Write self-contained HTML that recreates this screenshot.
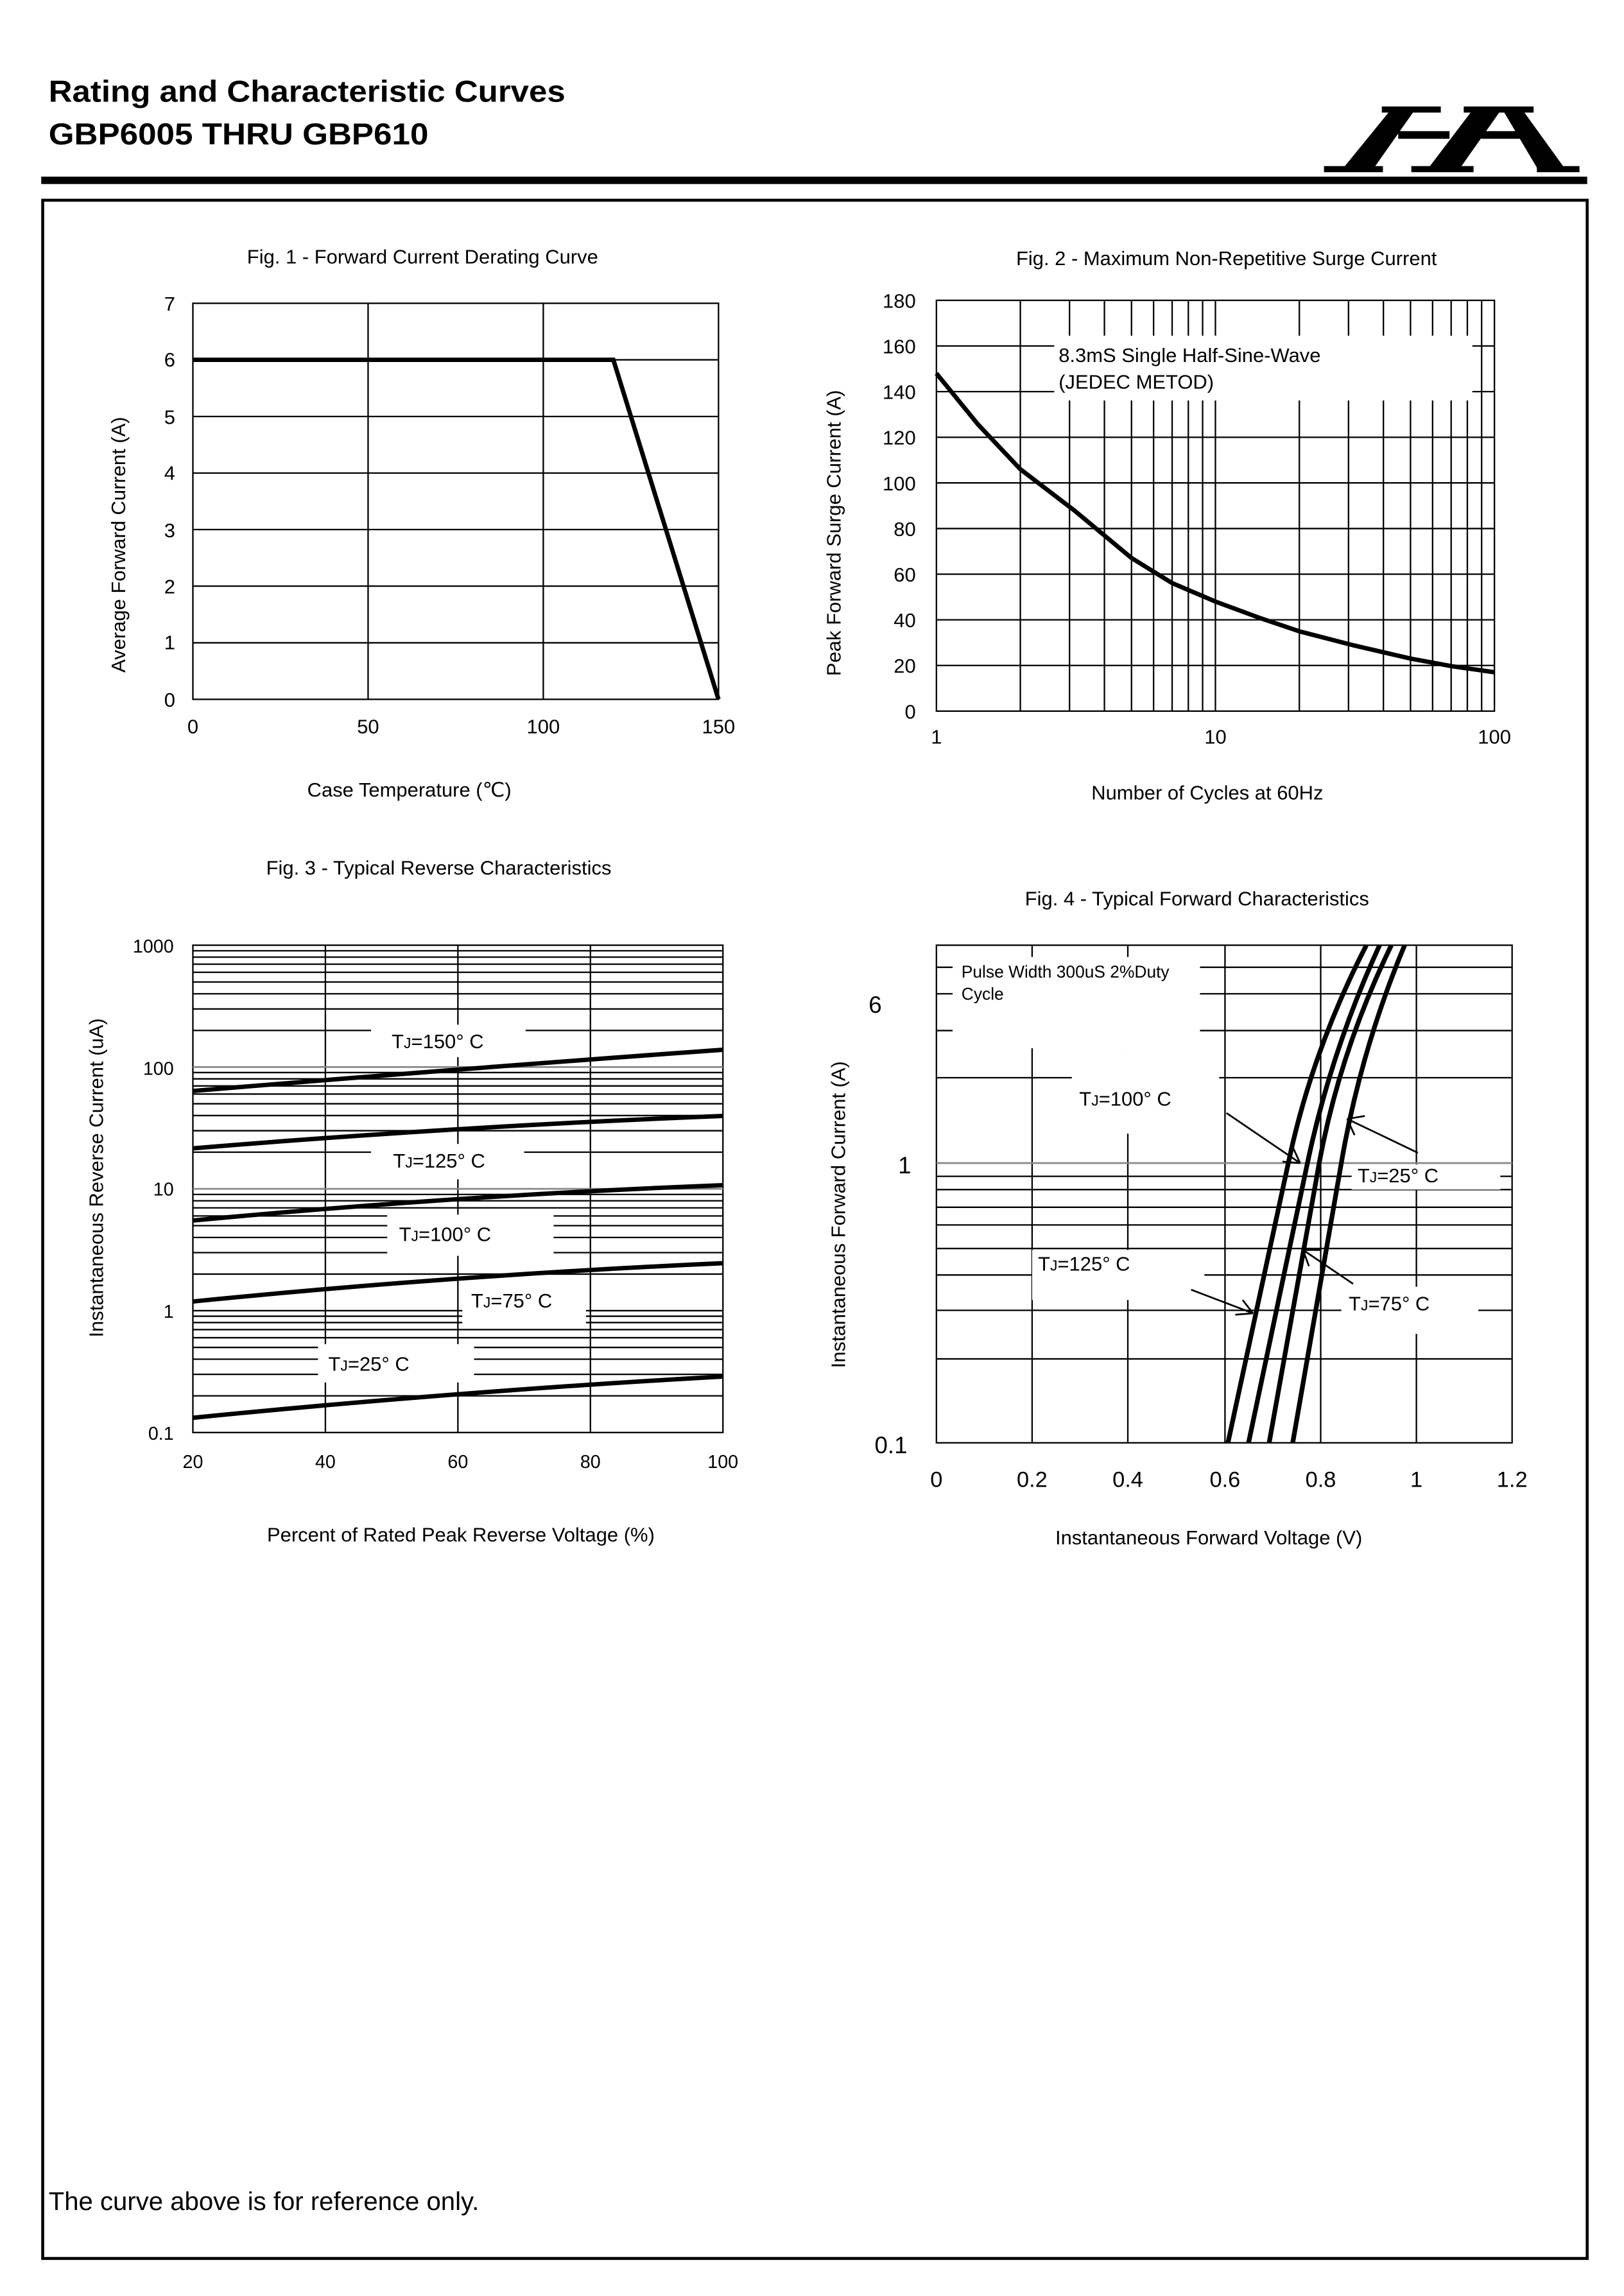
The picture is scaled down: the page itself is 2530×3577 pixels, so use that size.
<!DOCTYPE html>
<html><head><meta charset="utf-8"><style>
html,body{margin:0;padding:0;background:#fff}
svg{display:block}
text{font-family:"Liberation Sans",Arial,sans-serif;fill:#000}
</style></head><body>
<svg width="2530" height="3577" viewBox="0 0 1103 1559.5" preserveAspectRatio="none" xmlns="http://www.w3.org/2000/svg">
<rect x="0" y="0" width="1103" height="1560" fill="#fff"/>
<!-- header -->
<text x="33" y="69" font-size="20.5" font-weight="bold" textLength="351" lengthAdjust="spacingAndGlyphs">Rating and Characteristic Curves</text>
<text x="33" y="98" font-size="20.5" font-weight="bold" textLength="258" lengthAdjust="spacingAndGlyphs">GBP6005 THRU GBP610</text>
<rect x="28" y="120" width="1050" height="5" fill="#000"/>
<rect x="29" y="136" width="1049" height="1398" fill="none" stroke="#000" stroke-width="2"/>
<!-- logo -->
<g transform="translate(871.8,52.3) scale(0.1483)" fill="#000">
<polygon points="275,415 415,415 605,145 495,145"/>
<rect x="450" y="135" width="270" height="28"/>
<rect x="185" y="408" width="270" height="28"/>
<polygon points="665,415 810,415 1000,145 870,145"/>
<rect x="825" y="135" width="320" height="28"/>
<rect x="585" y="408" width="285" height="28"/>
<rect x="525" y="248" width="235" height="35"/>
<rect x="905" y="248" width="210" height="35"/>
<polygon points="1000,145 1090,145 1285,415 1160,415"/>
<rect x="1160" y="408" width="195" height="28"/>
</g>

<!-- FIG 1 -->
<text x="287" y="179" font-size="13.5" text-anchor="middle">Fig. 1 - Forward Current Derating Curve</text>
<g stroke="#000" stroke-width="1" fill="none">
<rect x="131" y="206" width="357" height="269"/>
<path d="M131 244.4H488M131 282.9H488M131 321.3H488M131 359.7H488M131 398.1H488M131 436.6H488M250 206V475M369 206V475"/>
</g>
<polyline points="131,244.4 416.6,244.4 488,475" fill="none" stroke="#000" stroke-width="3"/>
<g font-size="13.5" text-anchor="end">
<text x="119" y="480">0</text><text x="119" y="441">1</text><text x="119" y="403">2</text><text x="119" y="365">3</text><text x="119" y="326">4</text><text x="119" y="288">5</text><text x="119" y="249">6</text><text x="119" y="211">7</text>
</g>
<g font-size="13.5" text-anchor="middle">
<text x="131" y="498">0</text><text x="250" y="498">50</text><text x="369" y="498">100</text><text x="488" y="498">150</text>
<text x="278" y="541">Case Temperature (℃)</text>
</g>
<text transform="translate(85,370) rotate(-90)" font-size="13.5" text-anchor="middle">Average Forward Current (A)</text>

<!-- FIG 2 -->
<text x="833" y="180" font-size="13.5" text-anchor="middle">Fig. 2 - Maximum Non-Repetitive Surge Current</text>
<g stroke="#000" stroke-width="1" fill="none">
<rect x="636" y="204" width="379" height="279"/>
<path d="M636 452H1015M636 421H1015M636 390H1015M636 359H1015M636 328H1015M636 297H1015M636 266H1015M636 235H1015"/>
<path d="M693 204V483M726.4 204V483M750.1 204V483M768.5 204V483M783.5 204V483M796.1 204V483M807.1 204V483M816.8 204V483M825.5 204V483M882.5 204V483M915.9 204V483M939.6 204V483M958 204V483M973 204V483M985.6 204V483M996.6 204V483M1006.3 204V483"/>
</g>
<rect x="716" y="228" width="284" height="44" fill="#fff"/>
<text x="719" y="246" font-size="13.5">8.3mS Single Half-Sine-Wave</text>
<text x="719" y="264" font-size="13.5">(JEDEC METOD)</text>
<path d="M636 253.6 L664 288 L693 318.7 L730 347 L768.5 379 L796 396 L825.5 408.6 L855 419.5 L882.5 428.8 L920 438.5 L958 447.3 L986 452.5 L1015 456.6" fill="none" stroke="#000" stroke-width="3" stroke-linejoin="round"/>
<g font-size="13.5" text-anchor="end">
<text x="622" y="488">0</text><text x="622" y="457">20</text><text x="622" y="426">40</text><text x="622" y="395">60</text><text x="622" y="364">80</text><text x="622" y="333">100</text><text x="622" y="302">120</text><text x="622" y="271">140</text><text x="622" y="240">160</text><text x="622" y="209">180</text>
</g>
<g font-size="13.5" text-anchor="middle">
<text x="636" y="505">1</text><text x="825.5" y="505">10</text><text x="1015" y="505">100</text>
<text x="820" y="543">Number of Cycles at 60Hz</text>
</g>
<text transform="translate(571,362) rotate(-90)" font-size="13.5" text-anchor="middle">Peak Forward Surge Current (A)</text>

<!-- FIG 3 -->
<text x="298" y="594" font-size="13.5" text-anchor="middle">Fig. 3 - Typical Reverse Characteristics</text>
<g stroke="#000" stroke-width="1" fill="none">
<rect x="131" y="642" width="360" height="331"/>
<path d="M221 642V973M311 642V973M401 642V973"/>
<path d="M131 948.1H491M131 933.5H491M131 923.2H491M131 915.2H491M131 908.6H491M131 903.1H491M131 898.3H491M131 894H491M131 890.25H491
M131 865.4H491M131 850.8H491M131 840.5H491M131 832.5H491M131 825.9H491M131 820.4H491M131 815.6H491M131 811.3H491
M131 782.6H491M131 768H491M131 757.7H491M131 749.7H491M131 743.1H491M131 737.6H491M131 732.8H491M131 728.5H491
M131 699.9H491M131 685.3H491M131 675H491M131 667H491M131 660.4H491M131 654.9H491M131 650.1H491M131 645.8H491"/>
</g>
<path d="M131 807.5H491M131 724.75H491" stroke="#888" stroke-width="1.2"/>
<g fill="#fff">
<rect x="252" y="696" width="105" height="22"/>
<rect x="252" y="777" width="104" height="24"/>
<rect x="263" y="825" width="113" height="28"/>
<rect x="314" y="872" width="84" height="30"/>
<rect x="216" y="913" width="106" height="26"/>
</g>
<g font-size="13.5">
<text x="266" y="712">T<tspan font-size="10">J</tspan>=150° C</text>
<text x="267" y="793">T<tspan font-size="10">J</tspan>=125° C</text>
<text x="271" y="843">T<tspan font-size="10">J</tspan>=100° C</text>
<text x="320" y="888">T<tspan font-size="10">J</tspan>=75° C</text>
<text x="223" y="931">T<tspan font-size="10">J</tspan>=25° C</text>
</g>
<g fill="none" stroke="#000" stroke-width="3">
<path d="M131 741 Q311 726 491 713"/>
<path d="M131 780 Q311 765 491 758"/>
<path d="M131 829 Q311 812 491 805"/>
<path d="M131 884 Q311 866 491 858"/>
<path d="M131 963 Q311 945 491 935"/>
</g>
<g font-size="12.5" text-anchor="end">
<text x="118" y="647">1000</text><text x="118" y="730">100</text><text x="118" y="812">10</text><text x="118" y="895">1</text><text x="118" y="978">0.1</text>
</g>
<g font-size="12.5" text-anchor="middle">
<text x="131" y="997">20</text><text x="221" y="997">40</text><text x="311" y="997">60</text><text x="401" y="997">80</text><text x="491" y="997">100</text>
<text x="313" y="1047" font-size="13.5">Percent of Rated Peak Reverse Voltage (%)</text>
</g>
<text transform="translate(70,800) rotate(-90)" font-size="13.5" text-anchor="middle">Instantaneous Reverse Current (uA)</text>

<!-- FIG 4 -->
<text x="813" y="615" font-size="13.5" text-anchor="middle">Fig. 4 - Typical Forward Characteristics</text>
<g stroke="#000" stroke-width="1" fill="none">
<rect x="636" y="642" width="391" height="338"/>
<path d="M701 642V980M766 642V980M832 642V980M897 642V980M962 642V980"/>
<path d="M636 657H1027M636 675H1027M636 700H1027M636 732H1027M636 799H1027M636 808H1027M636 820H1027M636 832H1027M636 848H1027M636 866H1027M636 890H1027M636 923H1027"/>
</g>
<path d="M636 790H1027" stroke="#888" stroke-width="1.2"/>
<g fill="#fff">
<rect x="647" y="650" width="168" height="62"/>
<rect x="728" y="712" width="100" height="58"/>
<rect x="918" y="791" width="101" height="17"/>
<rect x="701" y="849" width="117" height="34"/>
<rect x="911" y="874" width="93" height="32"/>
</g>
<text x="653" y="664" font-size="11.5">Pulse Width 300uS 2%Duty</text>
<text x="653" y="679" font-size="11.5">Cycle</text>
<g font-size="13.5">
<text x="733" y="751">T<tspan font-size="10">J</tspan>=100° C</text>
<text x="922" y="803">T<tspan font-size="10">J</tspan>=25° C</text>
<text x="705" y="863">T<tspan font-size="10">J</tspan>=125° C</text>
<text x="916" y="890">T<tspan font-size="10">J</tspan>=75° C</text>
</g>
<g fill="none" stroke="#000" stroke-width="3.2">
<path d="M834 980 L875 790 Q891 714 928 642"/>
<path d="M848 980 L888 790 Q904 714 937 642"/>
<path d="M862 980 L896 790 Q910 714 945 642"/>
<path d="M878 980 L911 790 Q924 714 954 642"/>
</g>
<g fill="none" stroke="#000" stroke-width="1.2">
<path d="M833 756L883 790M883 790L871 789M883 790L878 779"/>
<path d="M963 783L915 760M915 760L927 758M915 760L920 771"/>
<path d="M809 876L851 892M851 892L839 893M851 892L844 883"/>
<path d="M919 872L885 849M885 849L897 849M885 849L889 860"/>
</g>
<g font-size="16" font-family="'DejaVu Sans',sans-serif">
<text x="590" y="688">6</text>
<text x="610" y="797">1</text>
<text x="594" y="987">0.1</text>
</g>
<g font-size="15" text-anchor="middle" font-family="'DejaVu Sans',sans-serif">
<text x="636" y="1010">0</text><text x="701" y="1010">0.2</text><text x="766" y="1010">0.4</text><text x="832" y="1010">0.6</text><text x="897" y="1010">0.8</text><text x="962" y="1010">1</text><text x="1027" y="1010">1.2</text>
</g>
<text x="821" y="1049" font-size="13.5" text-anchor="middle">Instantaneous Forward Voltage (V)</text>
<text transform="translate(574,825) rotate(-90)" font-size="13.5" text-anchor="middle">Instantaneous Forward Current (A)</text>

<text x="33" y="1501" font-size="17.5">The curve above is for reference only.</text>
</svg>
</body></html>
